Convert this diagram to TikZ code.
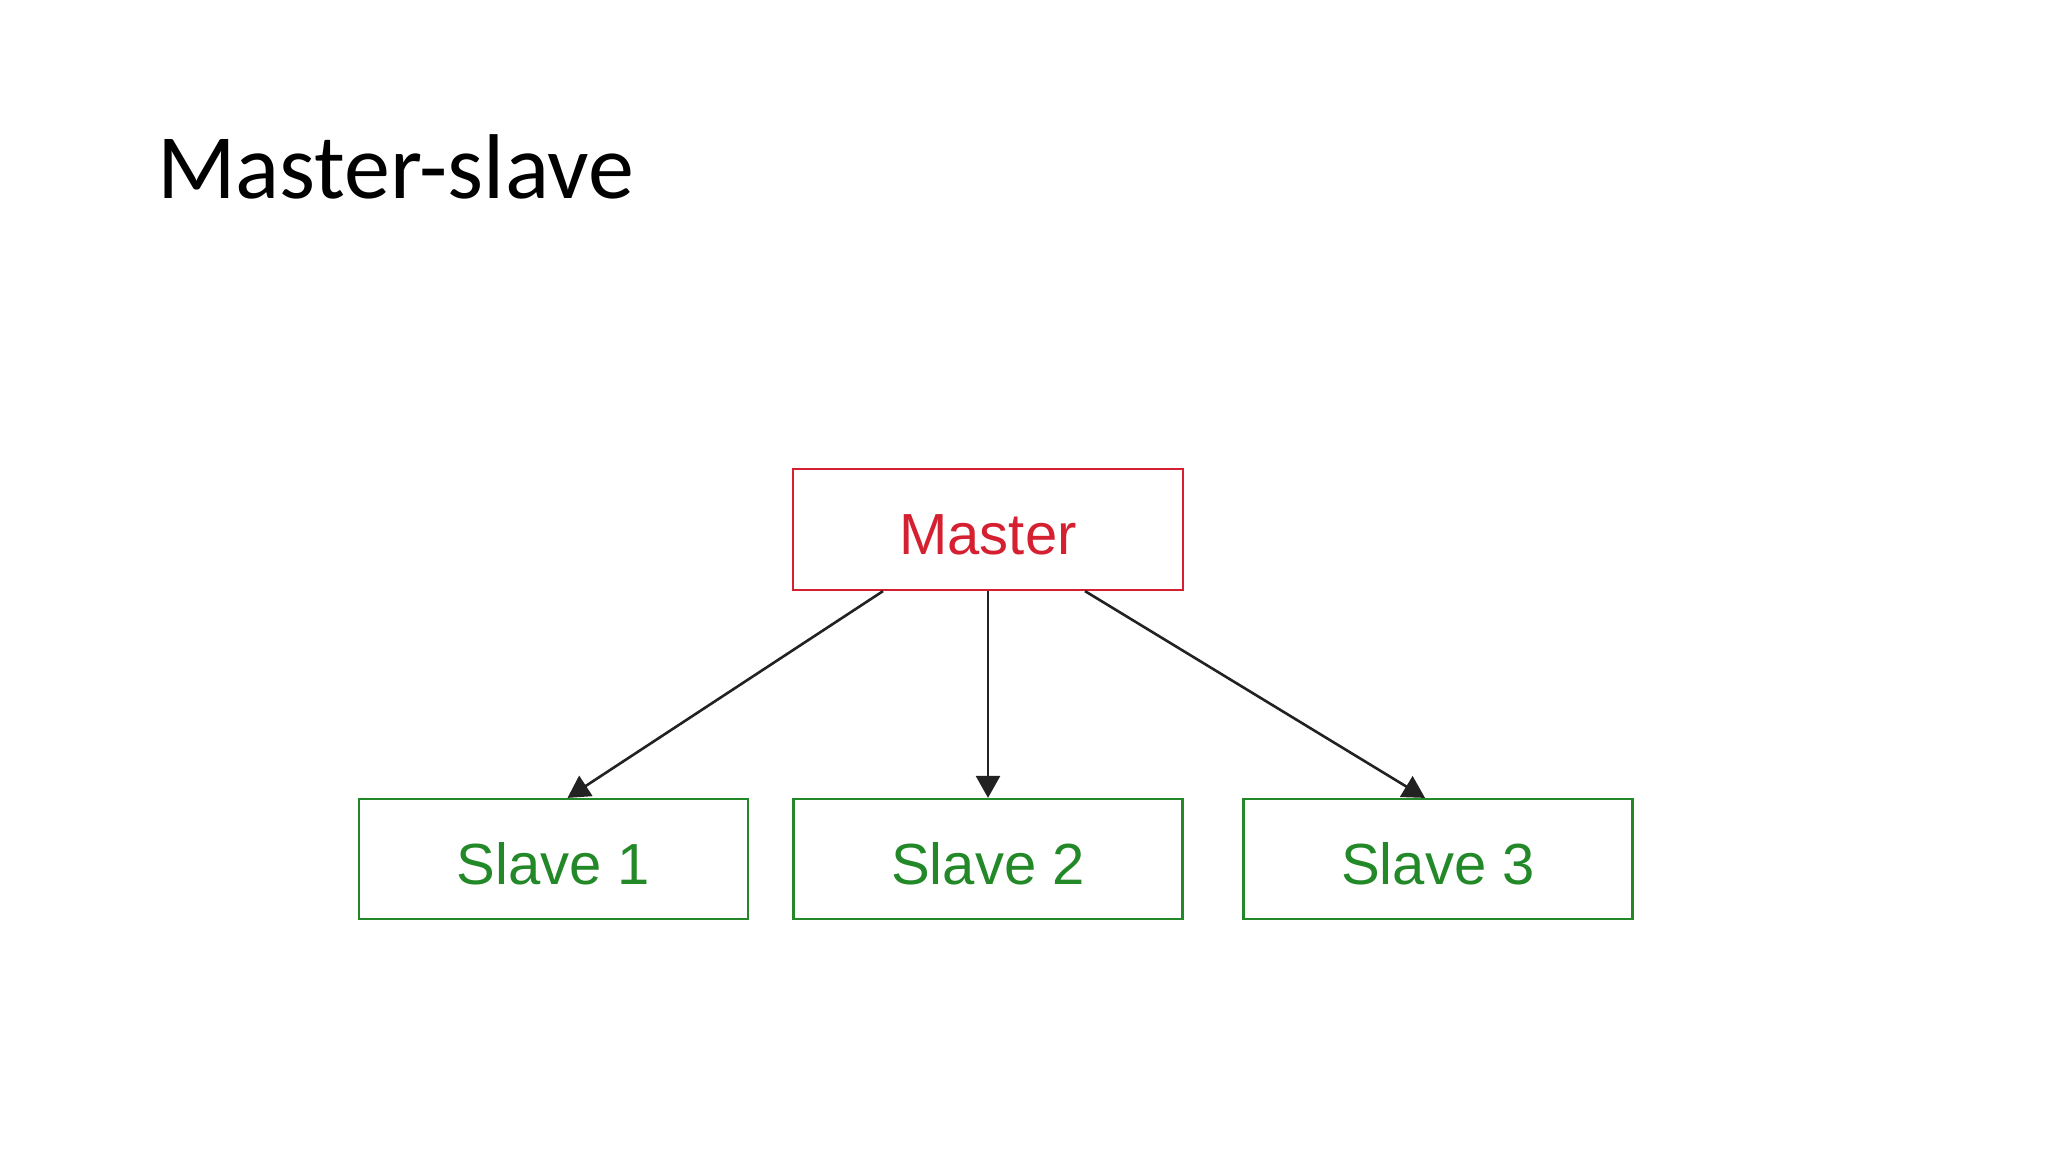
\documentclass[tikz,border=0pt]{standalone}
\usepackage{fontspec}
\setmainfont{Liberation Sans}
\newfontfamily\titlefont{Carlito}
\usetikzlibrary{calc,arrows.meta}
\definecolor{mred}{RGB}{212,32,48}
\definecolor{mgreen}{RGB}{34,136,40}
\definecolor{arrc}{RGB}{34,34,34}
\begin{document}
\begin{tikzpicture}[x=0.5pt,y=-0.5pt,
  mbox/.style={draw=mred,line width=1.1pt,rectangle,inner sep=0pt,minimum width=195pt,minimum height=60.5pt,text=mred,text height=25pt,text depth=0pt,font=\fontsize{29}{34}\selectfont},
  sbox/.style={draw=mgreen,line width=1.1pt,rectangle,inner sep=0pt,minimum width=194.5pt,minimum height=60pt,text=mgreen,text height=25pt,text depth=0pt,font=\fontsize{29}{34}\selectfont},
  arr/.style={draw=arrc,line width=1.3pt,-{Triangle[length=11pt,width=12pt]}}]
\useasboundingbox[fill=white] (0,0) rectangle (2048,1152);
\node[anchor=base west,font=\titlefont\fontsize{46}{55}\selectfont] (title) at (150,198) {Master-slave};
\node[mbox] (master) at (988,529.5) {Master};
\node[sbox] (s1) at (553.5,859) {Slave 1};
\node[sbox] (s2) at (988,859) {Slave 2};
\node[sbox] (s3) at (1438,859) {Slave 3};
\draw[arr] ($(master.south)+(-105,0)$) -- ($(s1.north)+(14,0)$);
\draw[arr] (master.south) -- (s2.north);
\draw[arr] ($(master.south)+(97,0)$) -- ($(s3.north)+(-13,0)$);
\end{tikzpicture}
\end{document}
